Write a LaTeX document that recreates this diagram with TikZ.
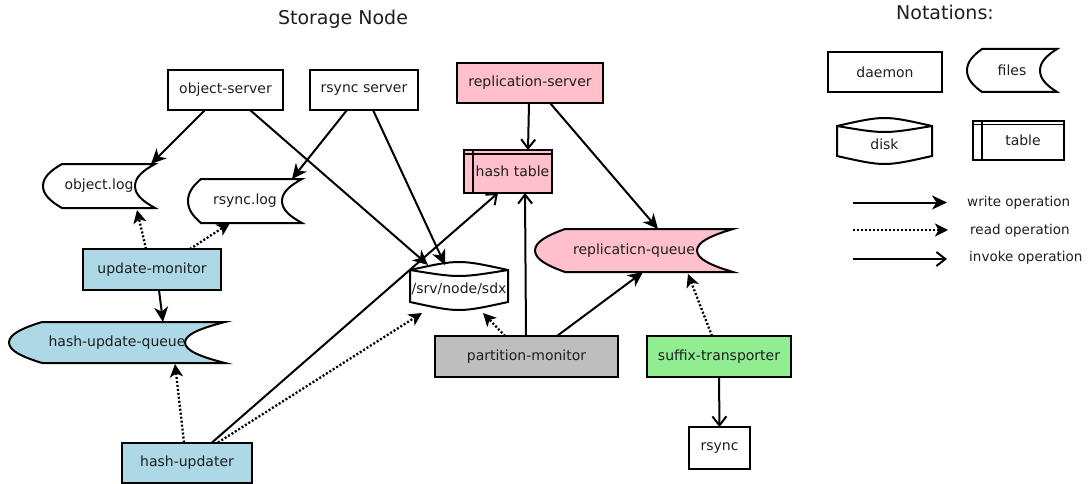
\documentclass[tikz,border=0pt]{standalone}
\usepackage{fontspec}
\setmainfont{DejaVu Sans}
\usetikzlibrary{arrows.meta}
\definecolor{ink}{HTML}{1E1E1E}
\definecolor{daemonblue}{HTML}{ADD8E6}
\definecolor{replpink}{HTML}{FFC0CB}
\definecolor{partgray}{HTML}{BEBEBE}
\definecolor{sufgreen}{HTML}{90EE90}
\newcommand\lblfont{\fontsize{14}{16}\selectfont}
\newcommand\legfont{\fontsize{13.5}{15}\selectfont}
\newcommand\ttlfont{\fontsize{19}{22}\selectfont}

% file: rounded tip on the left, straight top/bottom, rounded notch on the right
% #1 name, #2 x0, #3 y0, #4 x1, #5 y1, #6 tip depth, #7 notch depth, #8 fill, #9 text
\newcommand\filenode[9]{%
  \filldraw[outline, fill=#8] ({#2+#6},#3) -- (#4,#3)
    .. controls ({#4-0.6*#7},{#3+0.15*(#5-#3)}) and ({#4-#7},{#3+0.3*(#5-#3)}) .. ({#4-#7},{(#3+#5)/2})
    .. controls ({#4-#7},{#3+0.7*(#5-#3)}) and ({#4-0.6*#7},{#3+0.85*(#5-#3)}) .. (#4,#5)
    -- ({#2+#6},#5)
    .. controls ({#2+0.4*#6},{#3+0.85*(#5-#3)}) and (#2,{#3+0.7*(#5-#3)}) .. (#2,{(#3+#5)/2})
    .. controls (#2,{#3+0.3*(#5-#3)}) and ({#2+0.4*#6},{#3+0.15*(#5-#3)}) .. cycle;
  \pgfmathsetmacro\fw{#4-#2}\pgfmathsetmacro\fh{#5-#3}%
  \node[plain, minimum width=\fw pt, minimum height=\fh pt] (#1) at ({(#2+#4)/2},{(#3+#5)/2}) {#9};
}
% disk: lens-shaped lid, straight sides, curved bottom
% #1 name, #2 x0, #3 top, #4 x1, #5 bottom, #6 text
\newcommand\disknode[6]{%
  \pgfmathsetmacro\dxm{(#2+#4)/2}%
  \filldraw[outline, fill=white] (#2,{#3+8}) .. controls (\dxm,{#3+8-32/3}) .. (#4,{#3+8})
    -- (#4,{#5-8}) .. controls (\dxm,{#5-8+32/3}) .. (#2,{#5-8}) -- cycle;
  \draw[outline] (#2,{#3+8}) .. controls (\dxm,{#3+16}) .. (#4,{#3+8});
  \pgfmathsetmacro\fw{#4-#2}\pgfmathsetmacro\fh{#5-#3}%
  \node[plain, minimum width=\fw pt, minimum height=\fh pt] (#1) at (\dxm,{(#3+#5)/2+3}) {#6};
}
% table: box with doubled top edge and doubled left edge
% #1 name, #2 x0, #3 y0, #4 x1, #5 y1, #6 fill, #7 text
\newcommand\tablenode[7]{%
  \filldraw[outline, fill=#6] (#2,#3) rectangle (#4,#5);
  \draw[line width=1.4pt] (#2,{#3+3.8}) -- (#4,{#3+3.8});
  \draw[outline] ({#2+9},#3) -- ({#2+9},#5);
  \pgfmathsetmacro\fw{#4-#2}\pgfmathsetmacro\fh{#5-#3}%
  \node[plain, minimum width=\fw pt, minimum height=\fh pt] (#1) at ({(#2+#4)/2},{(#3+#5)/2}) {\kern9pt #7};
}

\begin{document}
\begin{tikzpicture}[x=1pt, y=-1pt,
  outline/.style={line width=2pt, draw=black, line join=miter},
  plain/.style={inner sep=0pt, outer sep=0pt, font=\lblfont, text=ink},
  daemonbox/.style={plain, draw=black, line width=2pt, minimum height=40pt},
  writeop/.style={line width=2pt, -{Stealth[length=15pt,width=14pt,inset=4.5pt]}},
  readop/.style={line width=2.3pt, dash pattern=on 2pt off 2pt, -{Stealth[length=13pt,width=13pt,inset=3.5pt]}},
  invokeop/.style={line width=2pt, -{Straight Barb[length=9pt,width=14pt]}},
  legtext/.style={anchor=west, inner sep=0pt, font=\legfont, text=ink},
]
\useasboundingbox (0,0) rectangle (1089,484);

% titles
\node[font=\ttlfont, text=ink] (title) at (343,19) {Storage Node};
\node[font=\ttlfont, text=ink] (nottitle) at (945,12) {Notations:};

% daemons
\node[daemonbox, minimum width=115pt] (objsrv) at (225.5,90) {object-server};
\node[daemonbox, minimum width=108pt] (rsyncsrv) at (364,90) {rsync server};
\node[daemonbox, minimum width=146pt, fill=replpink] (replsrv) at (530,83) {replication-server};
\node[daemonbox, minimum width=138pt, minimum height=41pt, fill=daemonblue] (updmon) at (152,269.5) {update-monitor};
\node[daemonbox, minimum width=183pt, minimum height=41pt, fill=partgray] (partmon) at (526.5,356.5) {partition-monitor};
\node[daemonbox, minimum width=144pt, minimum height=41pt, fill=sufgreen] (suffix) at (719,356.5) {suffix-transporter};
\node[daemonbox, minimum width=61pt, minimum height=42pt] (rsync) at (719.5,448) {rsync};
\node[daemonbox, minimum width=130pt, fill=daemonblue] (hashupd) at (187,462.5) {hash-updater};

% files, disk and table
\filenode{objlog}{43}{164}{155}{208}{19}{20}{white}{object.log}
\filenode{rsynclog}{188}{179}{302}{223}{13}{20}{white}{rsync.log}
\filenode{hashq}{9}{322}{225}{363}{33}{40}{daemonblue}{hash-update-queue}
\filenode{replq}{535}{229}{733}{272}{30}{36}{replpink}{replicaticn-queue}
\disknode{sdx}{410}{262}{508}{310}{/srv/node/sdx}
\tablenode{hashtbl}{464}{150}{552}{193}{replpink}{hash table}

% connectors
\draw[writeop] ([xshift=-20.5pt]objsrv.south) -- ([xshift=52pt]objlog.north);
\draw[writeop] ([xshift=24.5pt]objsrv.south) -- ([xshift=-31pt]sdx.north);
\draw[writeop] ([xshift=-17pt]rsyncsrv.south) -- ([xshift=47pt]rsynclog.north);
\draw[writeop] ([xshift=9pt]rsyncsrv.south) -- ([xshift=-14pt]sdx.north);
\draw[invokeop] ([xshift=-1pt]replsrv.south) -- ([xshift=20pt]hashtbl.north);
\draw[writeop] ([xshift=20pt]replsrv.south) -- ([xshift=24pt]replq.north);
\draw[readop] ([xshift=-6pt]updmon.north) -- ([xshift=38pt,yshift=-2pt]objlog.south);
\draw[readop] ([xshift=38pt]updmon.north) -- ([xshift=-15pt]rsynclog.south);
\draw[writeop] ([xshift=7pt]updmon.south) -- ([xshift=46pt]hashq.north);
\draw[readop] ([xshift=-3pt]hashupd.north) -- ([xshift=58pt,yshift=-1pt]hashq.south);
\draw[invokeop] ([xshift=25pt]hashupd.north) -- ([xshift=-10pt]hashtbl.south);
\draw[readop] ([xshift=31pt]hashupd.north) -- ([xshift=-37pt]sdx.south);
\draw[readop] ([xshift=-21.5pt]partmon.north) -- ([xshift=24pt]sdx.south);
\draw[invokeop] ([xshift=-0.5pt]partmon.north) -- ([xshift=17pt]hashtbl.south);
\draw[writeop] ([xshift=30.5pt]partmon.north) -- ([xshift=9pt]replq.south);
\draw[readop] ([xshift=-7pt]suffix.north) -- ([xshift=54pt,yshift=-2pt]replq.south);
\draw[invokeop] (suffix.south) -- (rsync.north);

% notations
\node[daemonbox, minimum width=114pt] (legdaemon) at (885,72) {daemon};
\filenode{legfiles}{967}{49}{1057}{92}{15}{17}{white}{files}
\disknode{legdisk}{837}{118}{932}{164}{disk}
\tablenode{legtable}{973}{121}{1064}{160}{white}{table}

\coordinate (w0) at (853,202.5); \coordinate (w1) at (947,202.5);
\coordinate (r0) at (853,230);   \coordinate (r1) at (948,230);
\coordinate (i0) at (853,259);   \coordinate (i1) at (947,259);
\draw[writeop] (w0) -- (w1);
\draw[readop] (r0) -- (r1);
\draw[invokeop] (i0) -- (i1);
\node[legtext] (lw) at (967,203) {write operation};
\node[legtext] (lr) at (970,230.5) {read operation};
\node[legtext] (li) at (969,258) {invoke operation};
\end{tikzpicture}
\end{document}
